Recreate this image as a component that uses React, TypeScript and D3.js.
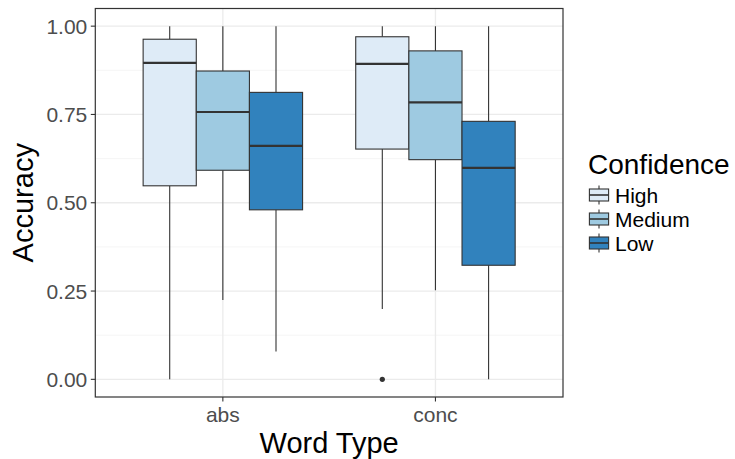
import React from 'react';
import * as d3 from 'd3';

const wordTypes = ['abs', 'conc'];
const confidence = ['High', 'Medium', 'Low'];
const fills = ['#DEEBF7', '#9ECAE1', '#3182BD'];
// rows: word type, columns: confidence (High, Medium, Low)
const whiskerLow = [[0, 0.225, 0.079], [0.199, 0.252, 0]];
const q1 = [[0.548, 0.592, 0.48], [0.652, 0.622, 0.323]];
const median = [[0.896, 0.757, 0.661], [0.893, 0.784, 0.599]];
const q3 = [[0.963, 0.873, 0.8125], [0.97, 0.93, 0.7305]];
const whiskerHigh = [[1, 1, 1], [1, 1, 1]];
const outlierType = ['conc'];
const outlierConf = ['High'];
const outlierValue = [0];
const yTicks = [0, 0.25, 0.5, 0.75, 1];
const yMinor = [0.125, 0.375, 0.625, 0.875];

const W = 735, H = 459;
const panel = { left: 95.3, right: 563, top: 8.5, bottom: 397 };
const FONT = "'Liberation Sans', Arial, sans-serif";

export default function App() {
  const y = d3.scaleLinear().domain([-0.05, 1.05]).range([panel.bottom, panel.top]);
  const x = d3.scaleLinear().domain([0.4, 2.6]).range([panel.left, panel.right]);
  const dodge = d3.scaleBand().domain(confidence).range([-0.375, 0.375]);
  const color = d3.scaleOrdinal<string, string>().domain(confidence).range(fills);
  const fmt = d3.format('.2f');
  const boxW = x(dodge.bandwidth()) - x(0);

  const boxes: any[] = [];
  wordTypes.forEach((wt, i) => {
    confidence.forEach((cf, j) => {
      const cx = x(i + 1 + (dodge(cf) as number) + dodge.bandwidth() / 2);
      boxes.push({ wt, cf, cx, lo: whiskerLow[i][j], q1: q1[i][j], med: median[i][j], q3: q3[i][j], hi: whiskerHigh[i][j] });
    });
  });

  const keySize = 24;
  const keyLeft = 587;
  const keyTop0 = 183;

  return (
    <svg width={W} height={H} style={{ position: 'absolute', left: 0, top: 0, background: '#fff' }} fontFamily={FONT}>
      <rect x={0} y={0} width={W} height={H} fill="#fff" />
      {/* grid */}
      {yMinor.map((v) => (
        <line key={'mn' + v} x1={panel.left} x2={panel.right} y1={y(v)} y2={y(v)} stroke="#F2F2F2" strokeWidth={0.8} />
      ))}
      {yTicks.map((v) => (
        <line key={'mj' + v} x1={panel.left} x2={panel.right} y1={y(v)} y2={y(v)} stroke="#EBEBEB" strokeWidth={1.3} />
      ))}
      {wordTypes.map((wt, i) => (
        <line key={'vx' + wt} x1={x(i + 1)} x2={x(i + 1)} y1={panel.top} y2={panel.bottom} stroke="#EBEBEB" strokeWidth={1.3} />
      ))}
      {/* boxes */}
      {boxes.map((b) => (
        <g key={b.wt + b.cf}>
          <line x1={b.cx} x2={b.cx} y1={y(b.hi)} y2={y(b.q3)} stroke="#333333" strokeWidth={1.1} />
          <line x1={b.cx} x2={b.cx} y1={y(b.q1)} y2={y(b.lo)} stroke="#333333" strokeWidth={1.1} />
          <rect x={b.cx - boxW / 2} y={y(b.q3)} width={boxW} height={y(b.q1) - y(b.q3)} fill={color(b.cf)} stroke="#333333" strokeWidth={1.1} />
          <line x1={b.cx - boxW / 2} x2={b.cx + boxW / 2} y1={y(b.med)} y2={y(b.med)} stroke="#333333" strokeWidth={2.2} />
        </g>
      ))}
      {outlierValue.map((v, k) => {
        const i = wordTypes.indexOf(outlierType[k]);
        const cf = outlierConf[k];
        const cx = x(i + 1 + (dodge(cf) as number) + dodge.bandwidth() / 2);
        return <circle key={'o' + k} cx={cx} cy={y(v)} r={2.6} fill="#333333" />;
      })}
      {/* panel border */}
      <rect x={panel.left} y={panel.top} width={panel.right - panel.left} height={panel.bottom - panel.top} fill="none" stroke="#333333" strokeWidth={1.2} />
      {/* y axis */}
      {yTicks.map((v) => (
        <g key={'yt' + v}>
          <line x1={panel.left - 4.5} x2={panel.left} y1={y(v)} y2={y(v)} stroke="#333333" strokeWidth={1.1} />
          <text x={panel.left - 8} y={y(v)} dy="0.36em" textAnchor="end" fontSize={21} fill="#4D4D4D">{fmt(v)}</text>
        </g>
      ))}
      {/* x axis */}
      {wordTypes.map((wt, i) => (
        <g key={'xt' + wt}>
          <line x1={x(i + 1)} x2={x(i + 1)} y1={panel.bottom} y2={panel.bottom + 4.5} stroke="#333333" strokeWidth={1.1} />
          <text x={x(i + 1)} y={422} textAnchor="middle" fontSize={21} fill="#4D4D4D">{wt}</text>
        </g>
      ))}
      <text x={(panel.left + panel.right) / 2} y={453} textAnchor="middle" fontSize={29} fill="#000">Word Type</text>
      <text transform={`translate(33, ${(panel.top + panel.bottom) / 2}) rotate(-90)`} textAnchor="middle" fontSize={29} fill="#000">Accuracy</text>
      {/* legend */}
      <text x={588} y={174} fontSize={28} fill="#000">Confidence</text>
      {confidence.map((cf, j) => {
        const t = keyTop0 + j * keySize;
        const l = keyLeft;
        const cx = l + keySize / 2;
        return (
          <g key={'lg' + cf}>
            <line x1={cx} x2={cx} y1={t + 0.1 * keySize} y2={t + 0.9 * keySize} stroke="#333333" strokeWidth={1.1} />
            <rect x={l + 0.1 * keySize} y={t + 0.25 * keySize} width={0.8 * keySize} height={0.5 * keySize} fill={color(cf)} stroke="#333333" strokeWidth={1.1} />
            <line x1={l + 0.1 * keySize} x2={l + 0.9 * keySize} y1={t + 0.5 * keySize} y2={t + 0.5 * keySize} stroke="#333333" strokeWidth={1.6} />
            <text x={615} y={t + keySize / 2} dy="0.36em" fontSize={21} fill="#000">{cf}</text>
          </g>
        );
      })}
    </svg>
  );
}
